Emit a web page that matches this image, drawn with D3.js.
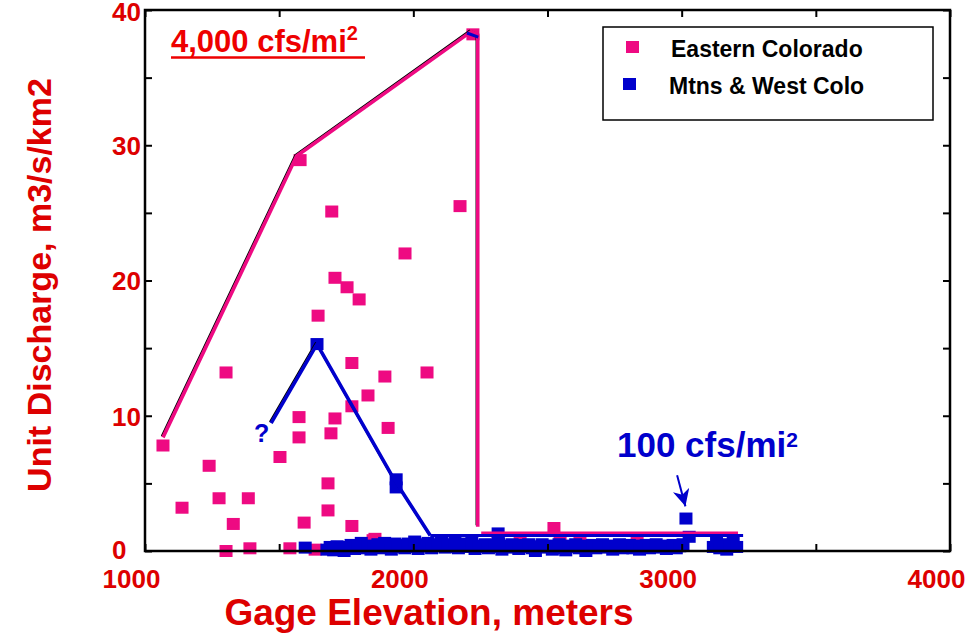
<!DOCTYPE html>
<html><head><meta charset="utf-8">
<script src="https://cdn.jsdelivr.net/npm/d3@7"></script>
<style>
html,body{margin:0;padding:0;background:#fff;}
text{font-family:"Liberation Sans",Arial,sans-serif;font-weight:bold;}
</style></head>
<body>
<svg id="chart" width="977" height="633"></svg>
<script>
// ---------- DATA ----------
const xTicks = [1000, 1500, 2000, 2500, 3000, 3500, 4000];
const xTickLabels = ["1000", "", "2000", "", "3000", "", "4000"];
const yTicks = [0, 5, 10, 15, 20, 25, 30, 35, 40];
const yTickLabels = ["0", "", "10", "", "20", "", "30", "", "40"];

// Eastern Colorado (elevation m, unit discharge m3/s/km2)
const eastElev = [1067,1138,1239,1276,1329,1302,1385,1391,1503,1540,1574,1574,1593,1682,1682,1708,1693,1771,1831,1906,1771,1850,1634,
  1696,2174,1969,1708,1753,1798,1645,1771,1894,2051,1302,1578,2222,2524,2398,2547,2621,2834,3169,1857,2316];
const eastVal  = [7.8,3.2,6.3,3.9,2.0,0.0,3.9,0.2,6.95,0.2,9.9,8.4,2.1,5.0,3.0,9.8,8.7,10.7,11.5,9.1,1.85,0.8,0.1,
  25.1,25.5,22.0,20.2,19.5,18.6,17.4,13.9,12.9,13.2,13.2,28.9,38.2,1.7,0.8,0.8,0.75,0.8,0.3,0.9,0.9];

// Mtns & West Colo
const mtnElev = [1597,1678,1690,1703,1716,1729,1742,1755,1768,1781,1794,1806,1818,1830,1842,1855,1868,1880,1893,1905,1918,1930,
  1943,1955,1968,1980,1993,2005,2018,2030,2043,2055,2068,2080,2093,2105,2118,2130,2143,2155,2168,2180,2193,2205,2218,2230,
  2243,2255,2268,2280,2293,2305,2318,2330,2343,2355,2368,2380,2393,2405,2418,2430,2443,2455,2468,2480,2493,2505,2518,2530,
  2543,2555,2568,2580,2593,2605,2618,2630,2643,2655,2668,2680,2693,2705,2718,2730,2743,2755,2768,2780,2793,2805,2818,2830,
  2843,2855,2868,2880,2893,2905,2918,2930,2943,2955,2968,2980,2993,3005,
  3118,3130,3142,3155,3168,3180,3192,3205,
  1641,1936,1936,3016,3028,2316];
const mtnVal  = [0.25,0.1,0.3,0.05,0.35,0.2,0.0,0.3,0.45,0.15,0.3,0.6,0.2,0.4,0.1,0.3,0.5,0.2,0.6,0.35,0.1,0.55,
  0.3,0.45,0.2,0.55,0.3,0.7,0.15,0.5,0.35,0.6,0.2,0.5,0.4,0.65,0.25,0.5,0.3,0.6,0.2,0.45,0.55,0.3,0.6,0.15,
  0.4,0.3,0.5,0.2,0.45,0.3,0.55,0.1,0.4,0.25,0.5,0.3,0.15,0.45,0.3,0.5,0.2,0.0,0.35,0.5,0.25,0.4,0.1,0.35,
  0.5,0.2,0.05,0.4,0.3,0.5,0.2,0.4,0.0,0.3,0.45,0.2,0.35,0.5,0.25,0.4,0.1,0.3,0.5,0.2,0.35,0.45,0.2,0.4,
  0.1,0.3,0.45,0.2,0.35,0.5,0.25,0.4,0.15,0.3,0.45,0.2,0.35,0.5,
  0.3,0.6,0.2,0.5,0.1,0.35,0.7,0.3,
  15.3,5.3,4.7,2.4,1.05,1.3];

// Envelope lines
const eastEnvElev = [1067, 1565, 2215, 2240, 2240];
const eastEnvVal  = [8.4, 29.2, 38.4, 38.2, 1.8];
const eastFloorElev = [2253, 3210];
const eastFloorVal  = [1.35, 1.35];
const mtnEnvElev = [1470, 1641, 1925, 2063];
const mtnEnvVal  = [9.45, 15.3, 5.4, 1.15];
const mtnFloorElev = [2063, 3229];
const mtnFloorVal  = [1.15, 1.15];
const mtnTopElev = [2200, 2242];
const mtnTopVal  = [38.3, 38.0];
const arrowElev = [2983, 3014];
const arrowVal  = [5.6, 3.3];

const seriesNames = ["Eastern Colorado", "Mtns & West Colo"];
const PINK = "#ee0a82", BLUE = "#0000cc", RED = "#dd0000";

// ---------- CHART ----------
const svg = d3.select("#chart");
const L = 145, R = 950, T = 10, B = 551;
const x = d3.scaleLinear().domain([1000, 4000]).range([L, R]);
const y = d3.scaleLinear().domain([0, 40]).range([B, T]);

// markers
function markers(xs, ys, color) {
  svg.append("g").selectAll("rect").data(xs.map((e, i) => [e, ys[i]])).join("rect")
    .attr("x", d => x(d[0]) - 6.5).attr("y", d => y(d[1]) - 6)
    .attr("width", 13).attr("height", 12).attr("fill", color);
}
markers(eastElev, eastVal, PINK);
markers(mtnElev, mtnVal, BLUE);

const line = d3.line().x(d => x(d[0])).y(d => y(d[1]));
function zip(a, b) { return a.map((v, i) => [v, b[i]]); }
function envLine(xs, ys, color, w, shadow) {
  const d = line(zip(xs, ys));
  if (shadow) svg.append("path").attr("d", d).attr("fill", "none").attr("stroke", "#000")
    .attr("stroke-width", 1.4).attr("transform", "translate(-1.5,-1.3)").attr("stroke-linejoin", "round");
  svg.append("path").attr("d", d).attr("fill", "none").attr("stroke", color)
    .attr("stroke-width", w).attr("stroke-linejoin", "round");
}
envLine(eastEnvElev, eastEnvVal, PINK, 3.6, true);
envLine(eastFloorElev, eastFloorVal, PINK, 2.5, false);
envLine(mtnEnvElev, mtnEnvVal, BLUE, 3.6, true);
envLine(mtnFloorElev, mtnFloorVal, BLUE, 3, false);
envLine(mtnTopElev, mtnTopVal, BLUE, 3, false);

// arrow
svg.append("defs").append("marker").attr("id", "ah").attr("viewBox", "0 0 10 10")
  .attr("refX", 10).attr("refY", 5)
  .attr("markerUnits", "userSpaceOnUse").attr("orient", "auto")
  .attr("markerWidth", 17).attr("markerHeight", 17)
  .append("path").attr("d", "M0,0 L10,5 L0,10 L3,5 Z").attr("fill", BLUE);
svg.append("path").attr("d", line(zip(arrowElev, arrowVal))).attr("stroke", BLUE)
  .attr("stroke-width", 2).attr("fill", "none").attr("marker-end", "url(#ah)");

// frame
svg.append("rect").attr("x", L).attr("y", T).attr("width", R - L).attr("height", B - T)
  .attr("fill", "none").attr("stroke", "#000").attr("stroke-width", 2.5);

// axes
const gB = svg.append("g").attr("transform", `translate(0,${B})`)
  .call(d3.axisBottom(x).tickValues(xTicks).tickSizeInner(-7).tickSizeOuter(0).tickFormat((d, i) => xTickLabels[i]));
const gT = svg.append("g").attr("transform", `translate(0,${T})`)
  .call(d3.axisTop(x).tickValues(xTicks).tickSizeInner(-7).tickSizeOuter(0).tickFormat(""));
const gL = svg.append("g").attr("transform", `translate(${L},0)`)
  .call(d3.axisLeft(y).tickValues(yTicks).tickSizeInner(-7).tickSizeOuter(0).tickFormat((d, i) => yTickLabels[i]));
const gR = svg.append("g").attr("transform", `translate(${R},0)`)
  .call(d3.axisRight(y).tickValues(yTicks).tickSizeInner(-7).tickSizeOuter(0).tickFormat(""));
[gB, gT, gL, gR].forEach(g => {
  g.select(".domain").remove();
  g.selectAll(".tick line").attr("stroke", "#000").attr("stroke-width", 2);
  g.attr("font-family", null).attr("font-size", null);
});
gB.selectAll(".tick text").attr("y", 37).attr("dy", null).attr("dx", -14)
  .attr("fill", RED).style("font-size", "26px");
gL.selectAll(".tick text").attr("x", 112 - L).attr("dy", "0.36em").attr("text-anchor", "start")
  .attr("fill", RED).style("font-size", "26px");
gL.selectAll(".tick text").filter((d) => d === 0).attr("dy", "0.3em");
gL.selectAll(".tick text").filter((d) => d === 40).attr("dy", "0.42em");

// axis titles
svg.append("text").attr("x", 429).attr("y", 625).attr("text-anchor", "middle")
  .attr("fill", RED).style("font-size", "37px").text("Gage Elevation, meters");
svg.append("text").attr("transform", "translate(51,285) rotate(-90)").attr("text-anchor", "middle")
  .attr("fill", RED).style("font-size", "34px").text("Unit Discharge, m3/s/km2");

// annotations
const a1 = svg.append("text").attr("x", 171).attr("y", 52).attr("fill", "#ee0000").style("font-size", "31px");
a1.append("tspan").text("4,000 cfs/mi");
a1.append("tspan").attr("dy", -12).style("font-size", "20px").text("2");
svg.append("line").attr("x1", 171).attr("x2", 365).attr("y1", 57.5).attr("y2", 57.5)
  .attr("stroke", "#ee0000").attr("stroke-width", 2.6);

const a2 = svg.append("text").attr("x", 617).attr("y", 457).attr("fill", BLUE).style("font-size", "35px");
a2.append("tspan").text("100 cfs/mi");
a2.append("tspan").attr("dy", -10).style("font-size", "21px").text("2");

svg.append("text").attr("x", 254).attr("y", 442).attr("fill", BLUE).style("font-size", "25px").text("?");

// legend
const lg = svg.append("g");
lg.append("rect").attr("x", 603).attr("y", 27).attr("width", 330).attr("height", 93)
  .attr("fill", "#fff").attr("stroke", "#000").attr("stroke-width", 1.5);
const legItems = [{c: PINK, mx: 626, my: 41, ty: 57}, {c: BLUE, mx: 623, my: 78, ty: 94}];
legItems.forEach((it, i) => {
  lg.append("rect").attr("x", it.mx).attr("y", it.my).attr("width", 13).attr("height", 12).attr("fill", it.c);
  lg.append("text").attr("x", 671 - (i ? 2 : 0)).attr("y", it.ty).attr("fill", "#000")
    .style("font-size", "23px").text(seriesNames[i]);
});
</script>
</body></html>
